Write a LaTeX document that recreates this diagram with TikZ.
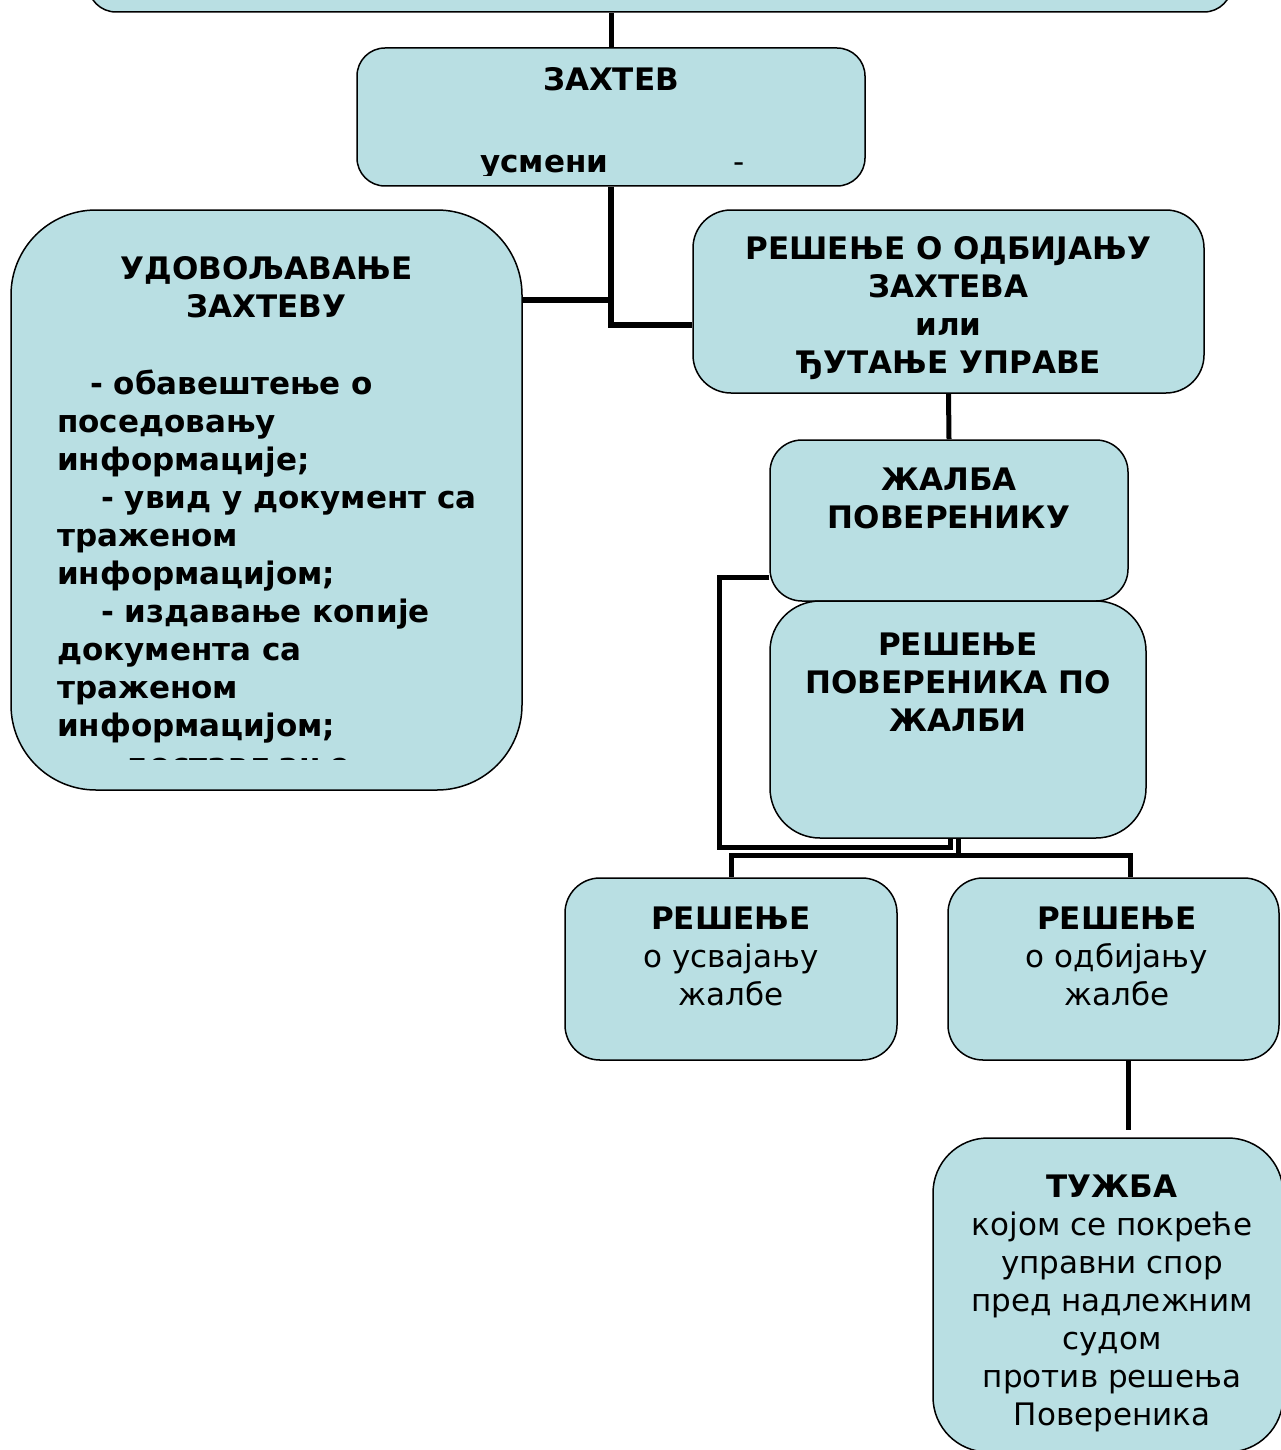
\documentclass[tikz,border=0pt]{standalone}
\usepackage{fontspec}
\setmainfont{DejaVu Sans}
\usepackage{tikz}
\usetikzlibrary{calc,positioning}
\definecolor{boxfill}{HTML}{B9DFE3}
\definecolor{ink}{HTML}{000000}
\tikzset{
  box/.style={rectangle, draw=ink, fill=boxfill, line width=1.5pt, inner sep=0pt},
  link/.style={draw=ink, line width=5pt},
  linkw/.style={draw=ink, line width=6pt},
  lab/.style={text=ink, font=\fontsize{31}{38}\selectfont\bfseries, anchor=base, inner sep=0pt, align=center},
  labn/.style={text=ink, font=\fontsize{31}{38}\selectfont, anchor=base, inner sep=0pt, align=center},
}

\begin{document}
\begin{tikzpicture}[x=1pt, y=-1pt]
\useasboundingbox (0,0) rectangle (1281,1450);
\clip (0,0) rectangle (1281,1450);

% boxes
\node[box, minimum width=1144, minimum height=104, rounded corners=28pt] (top) at (660,-40) {};
\node[box, minimum width=508, minimum height=138, rounded corners=28pt] (zahtev) at (611,117) {};
\node[box, minimum width=511, minimum height=580, rounded corners=85pt] (udov) at (266.5,500) {};
\node[box, minimum width=511, minimum height=183, rounded corners=38pt] (odbij) at (948.5,301.5) {};
\node[box, minimum width=358, minimum height=161, rounded corners=32pt] (zalba) at (949,520.5) {};
\node[box, minimum width=376, minimum height=237, rounded corners=50pt] (resPov) at (958,719.5) {};
\node[box, minimum width=332, minimum height=182, rounded corners=35pt] (usv) at (731,969) {};
\node[box, minimum width=331, minimum height=182, rounded corners=35pt] (odbz) at (1113.5,969) {};
\node[box, minimum width=350, minimum height=314, rounded corners=55pt] (tuzba) at (1108,1295) {};

% connectors
\coordinate (jA) at (614,300);
\coordinate (kL) at (719,847);
\coordinate (kB) at ($(resPov.south)+(0,17)$);
\draw[link] (zahtev.north) -- (zahtev.north |- top.south);
\draw[linkw] (zahtev.south) |- ($(odbij.west)+(0,23.5)$);
\draw[linkw] (udov.east |- jA) -- (jA);
\draw[link] (odbij.south) -- (zalba.north);
\draw[link] ($(zalba.west)+(0,56.5)$) -| (kL) -| ($(resPov.south)+(-8,0)$);
\draw[link] (resPov.south) -- (kB) -| (usv.north);
\draw[link] (kB) -| ($(odbz.north)+(16.5,0)$);
\draw[link] ($(odbz.south)+(14.5,0)$) -- ($(odbz.south |- tuzba.north)+(14.5,-7)$);

% texts (base = last line)
\node[lab] (tZahtev) at (611,91) {ЗАХТЕВ};
\begin{scope}
  \clip (357,48) rectangle (865,176);
  \node[lab, anchor=base west] (tUsmeni) at (480,173) {усмени};
  \node[labn] (tDash) at (739,173) {-};
\end{scope}
\node[lab] (tUdov) at (266.5,317) {УДОВОЉАВАЊЕ\\ЗАХТЕВУ};
\node[lab, align=left, anchor=base west] (tList) at (57,736) {\hspace*{33pt}- обавештење о\\поседовању\\информације;\\\hspace*{44pt}- увид у документ са\\траженом\\информацијом;\\\hspace*{44pt}- издавање копије\\документа са\\траженом\\информацијом;};
\begin{scope}
  \clip (11,740) rectangle (522,759);
  \node[lab, anchor=base west] (tDost) at (101,775) {- достављање};
\end{scope}
\node[lab] (tOdbij) at (948.5,373) {РЕШЕЊЕ О ОДБИЈАЊУ\\ЗАХТЕВА\\или\\ЂУТАЊЕ УПРАВЕ};
\node[lab] (tZalba) at (949,528) {ЖАЛБА\\ПОВЕРЕНИКУ};
\node[lab] (tResPov) at (958,731) {РЕШЕЊЕ\\ПОВЕРЕНИКА ПО\\ЖАЛБИ};
\node[labn] (tUsv) at (731,1005) {\textbf{РЕШЕЊЕ}\\о усвајању\\жалбе};
\node[labn] (tOdbz) at (1117,1005) {\textbf{РЕШЕЊЕ}\\о одбијању\\жалбе};
\node[labn] (tTuzba) at (1112,1425) {\textbf{ТУЖБА}\\којом се покреће\\управни спор\\пред надлежним\\судом\\против решења\\Повереника};
\end{tikzpicture}
\end{document}
